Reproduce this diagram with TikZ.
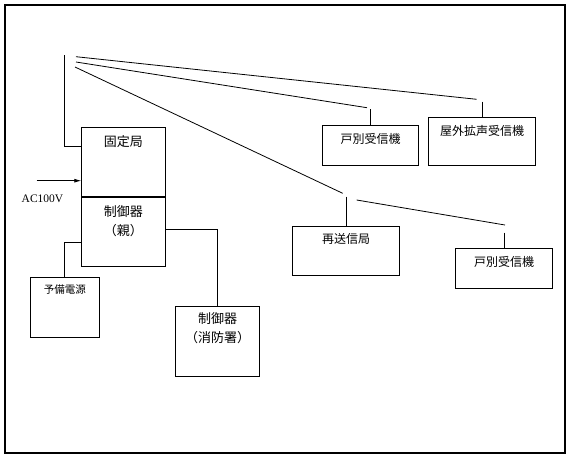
\documentclass[tikz,border=0pt]{standalone}
\usepackage{fontspec}
\setmainfont{Liberation Serif}
\newfontfamily\jpfont{Noto Sans CJK JP}
\usetikzlibrary{positioning, arrows.meta, calc}
\tikzset{
     unit/.style={draw, line width=.8pt, inner sep=0pt, outer sep=0pt},
     unit size/.style 2 args={minimum width=#1, minimum height=#2},
     caption/.style={font=\jpfont\fontsize{12}{19}\selectfont, inner sep=0pt, align=center},
     big caption/.style={caption, font=\jpfont\fontsize{13}{19}\selectfont},
     small caption/.style={caption, font=\jpfont\fontsize{10.5}{12}\selectfont},
     wire/.style={line width=.8pt},
     feed/.style={wire, -{Latex[length=7pt,width=4pt]}}
}
\begin{document}
\begin{tikzpicture}[x=1pt, y=-1pt]
  \useasboundingbox (0,0) rectangle (570,459);
  \draw[line width=2pt] (5,5) rectangle (564.5,453);
  % station side
  \node[unit, unit size={84}{69}] (kotei) at (123.3,162.2) {};
  \node[unit, unit size={84}{69.3}, below=0pt of kotei] (oya) {};
  \draw[line width=2pt] (kotei.south west) -- (kotei.south east);
  \node[unit, unit size={69}{60}] (yobi) at (64.8,307.3) {};
  \node[unit, unit size={83.6}{69.7}] (shobo) at (217.5,341.2) {};
  \node[big caption, below=7.5pt of kotei.north] (koteiname) {固定局};
  \node[big caption, below=8.5pt of oya.north] (oyaname) {制御器\\（親）};
  \node[small caption, below=7.5pt of yobi.north] (yobiname) {予備電源};
  \node[big caption, below=6pt of shobo.north] (shoboname) {制御器\\（消防署）};
  % receivers
  \node[unit, unit size={95.6}{40}] (kobetsuA) at (370.5,145.3) {};
  \node[unit, unit size={107.4}{48}] (okugai) at (482,141.3) {};
  \node[unit, unit size={106.6}{49}] (saisou) at (346,250.5) {};
  \node[unit, unit size={96.6}{40}] (kobetsuB) at (504,268.3) {};
  \node[caption, below=7.5pt of kobetsuA.north] (kobetsuAname) {戸別受信機};
  \node[caption, below=7.5pt of okugai.north] (okugainame) {屋外拡声受信機};
  \node[caption, below=7.5pt of saisou.north] (saisouname) {再送信局};
  \node[caption, below=7.5pt of kobetsuB.north] (kobetsuBname) {戸別受信機};
%
  \coordinate (mast) at (64.7,55);
  \coordinate (acin) at (36.7,180.7);
  \node[font=\fontsize{11.5}{12}\selectfont, inner sep=0pt] (acname) at (42.5,198.3) {AC100V};
  \draw[feed] (acin) -- (acin -| kotei.west);
  \draw[wire] (mast) |- ($(kotei.north west)+(0,18.3)$);
  \draw[wire] ($(oya.north east)+(0,32.6)$) -| (shobo.north);
  \draw[wire] ($(oya.north west)+(0,45.6)$) -| (yobi.north);
  % radio links
  \draw[wire] ($(mast)+(11.3,1.7)$) -- ($(okugai.north)+(-5.3,-18)$);
  \draw[wire] ($(okugai.north)+(0,-15.6)$) -- (okugai.north);
  \draw[wire] ($(mast)+(11.3,7)$) -- ($(kobetsuA.north)+(-3.5,-17.6)$);
  \draw[wire] ($(kobetsuA.north)+(0,-16)$) -- (kobetsuA.north);
  \draw[wire] ($(mast)+(10.3,12)$) -- ($(saisou.north)+(-3.3,-32.7)$);
  \draw[wire] ($(saisou.north)+(0,-29.3)$) -- (saisou.north);
  \draw[wire] ($(saisou.north)+(10.7,-26)$) -- ($(kobetsuB.north)+(1,-23.3)$);
  \draw[wire] ($(kobetsuB.north)+(0,-15.6)$) -- (kobetsuB.north);
\end{tikzpicture}
\end{document}
